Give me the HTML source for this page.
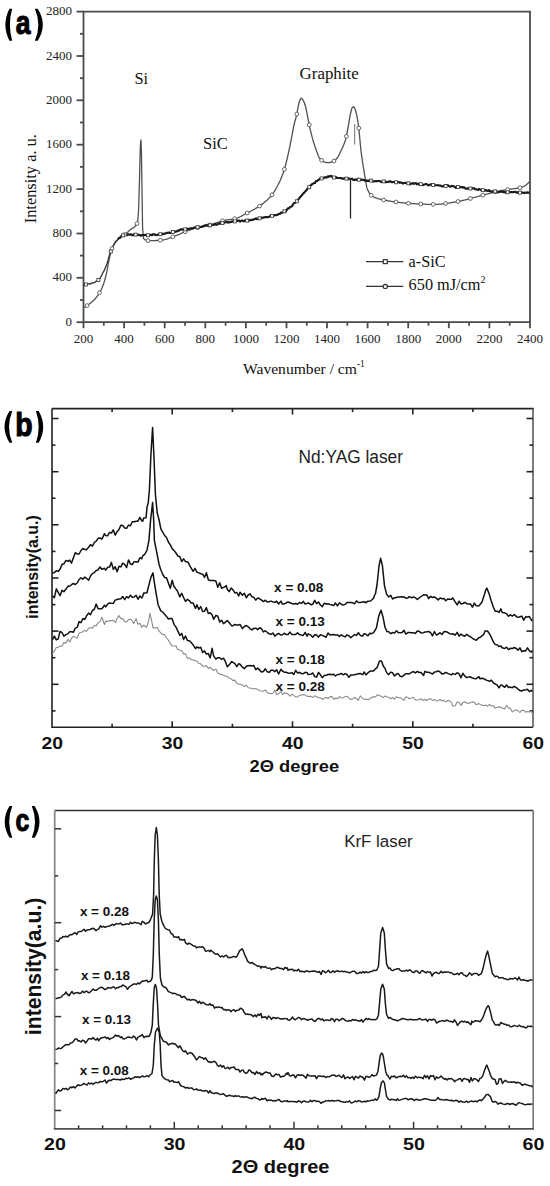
<!DOCTYPE html>
<html><head><meta charset="utf-8"><title>Figure</title>
<style>
html,body{margin:0;padding:0;background:#fff;}
body{width:550px;height:1186px;overflow:hidden;font-family:"Liberation Sans",sans-serif;}
svg{display:block;}
</style></head><body>
<svg width="550" height="1186" viewBox="0 0 550 1186">
<rect width="550" height="1186" fill="#fff"/>
<g stroke="#4a4a4a" stroke-width="1.8" fill="none">
<path d="M83.5 11.6H530V322.2H83.5Z"/>
<path d="M76.5 322.2H83.5"/>
<path d="M80 300H83.5"/>
<path d="M76.5 277.8H83.5"/>
<path d="M80 255.6H83.5"/>
<path d="M76.5 233.5H83.5"/>
<path d="M80 211.3H83.5"/>
<path d="M76.5 189.1H83.5"/>
<path d="M80 166.9H83.5"/>
<path d="M76.5 144.7H83.5"/>
<path d="M80 122.5H83.5"/>
<path d="M76.5 100.3H83.5"/>
<path d="M80 78.2H83.5"/>
<path d="M76.5 56H83.5"/>
<path d="M80 33.8H83.5"/>
<path d="M76.5 11.6H83.5"/>
<path d="M83.5 322.2V328.2"/>
<path d="M103.8 322.2V325.7"/>
<path d="M124.1 322.2V328.2"/>
<path d="M144.4 322.2V325.7"/>
<path d="M164.7 322.2V328.2"/>
<path d="M185 322.2V325.7"/>
<path d="M205.3 322.2V328.2"/>
<path d="M225.6 322.2V325.7"/>
<path d="M245.9 322.2V328.2"/>
<path d="M266.2 322.2V325.7"/>
<path d="M286.5 322.2V328.2"/>
<path d="M306.8 322.2V325.7"/>
<path d="M327 322.2V328.2"/>
<path d="M347.3 322.2V325.7"/>
<path d="M367.6 322.2V328.2"/>
<path d="M387.9 322.2V325.7"/>
<path d="M408.2 322.2V328.2"/>
<path d="M428.5 322.2V325.7"/>
<path d="M448.8 322.2V328.2"/>
<path d="M469.1 322.2V325.7"/>
<path d="M489.4 322.2V328.2"/>
<path d="M509.7 322.2V325.7"/>
<path d="M530 322.2V328.2"/>
</g>
<g font-family='"Liberation Serif", serif' font-size="13" fill="#222">
<text x="72" y="325.7" text-anchor="end">0</text>
<text x="72" y="281.3" text-anchor="end">400</text>
<text x="72" y="237" text-anchor="end">800</text>
<text x="72" y="192.6" text-anchor="end">1200</text>
<text x="72" y="148.2" text-anchor="end">1600</text>
<text x="72" y="103.8" text-anchor="end">2000</text>
<text x="72" y="59.5" text-anchor="end">2400</text>
<text x="72" y="15.1" text-anchor="end">2800</text>
<text x="83.5" y="342.8" text-anchor="middle">200</text>
<text x="124.1" y="342.8" text-anchor="middle">400</text>
<text x="164.7" y="342.8" text-anchor="middle">600</text>
<text x="205.3" y="342.8" text-anchor="middle">800</text>
<text x="245.9" y="342.8" text-anchor="middle">1000</text>
<text x="286.5" y="342.8" text-anchor="middle">1200</text>
<text x="327" y="342.8" text-anchor="middle">1400</text>
<text x="367.6" y="342.8" text-anchor="middle">1600</text>
<text x="408.2" y="342.8" text-anchor="middle">1800</text>
<text x="448.8" y="342.8" text-anchor="middle">2000</text>
<text x="489.4" y="342.8" text-anchor="middle">2200</text>
<text x="530" y="342.8" text-anchor="middle">2400</text>
</g>
<g font-family='"Liberation Serif", serif' fill="#111">
<text x="243" y="374" font-size="15.6">Wavenumber / cm<tspan font-size="9.5" dy="-7">-1</tspan></text>
<text transform="translate(35.5 178.7) rotate(-90)" text-anchor="middle" font-size="16.4">Intensity a. u.</text>
<text x="134.4" y="84.4" font-size="16.5">Si</text>
<text x="203" y="149" font-size="16.5">SiC</text>
<text x="299.6" y="78.6" font-size="16.9">Graphite</text>
<text x="408.6" y="266.8" font-size="16.3">a-SiC</text>
<text x="408.6" y="290.4" font-size="16.3">650 mJ/cm<tspan font-size="10" dy="-7">2</tspan></text>
</g>
<g stroke="#333" stroke-width="1.2" fill="#fff">
<path d="M366 261.6H403.3M366 286.4H403.3" fill="none"/>
<rect x="383.3" y="259.6" width="4" height="4"/>
<circle cx="385.3" cy="286.4" r="2.1"/>
</g>
<path d="M84 307.5L84.7 307.1L85.4 306.7L86.1 306.2L86.8 305.8L87.2 305.5L88.2 304.8L88.9 304.3L89.6 303.8L90.3 303.3L91 302.7L91.7 302.1L92.4 301.5L93.1 300.9L94 300L94.5 299.5L95.2 298.7L95.9 297.9L96.6 297.1L97.3 296.1L98 295.2L98.7 294.1L99.4 293L100 292L100.8 290.5L101.5 289L102.2 287.4L102.9 285.6L103.5 284L104.3 281.6L105 279.2L105.7 276.6L106.2 274.6L107.1 270.2L107.8 266.3L108.5 262.5L109 260L109.9 255.9L110.6 252.8L111.6 249.5L112 248.5L112.7 247L113.4 245.6L114.1 244.4L114.8 243.3L115.5 242.3L116.2 241.4L117 240.5L117.6 239.9L118.3 239.2L119 238.6L119.7 238.1L120.4 237.6L121.1 237.1L121.8 236.6L122.5 236.1L123.2 235.6L123.6 235.3L124.6 234.5L125.3 233.9L126 233.4L126.7 232.8L127.4 232.2L128.1 231.7L128.8 231.1L129.5 230.4L130 230L130.9 229.3L131.6 228.8L132.3 228.4L133 228L133.7 227.6L134.4 227L135.1 226.3L135.8 225.5L136.5 224.4L137.4 222.6L137.9 219.5L138.6 210L138.6 210L139.5 180L140 158.1L140.4 145L140.9 139.5L141.4 150L141.4 150L142 190L142.6 228L143.5 238.5L143.5 238.5L144.2 239.1L144.9 239.7L145.6 240L146.3 240.3L147 240.5L147.7 240.6L148.4 240.7L148.8 240.7L149.8 240.7L150.5 240.7L151.2 240.7L151.9 240.7L152.6 240.7L153.3 240.6L154 240.6L154.7 240.6L155.4 240.6L156.1 240.5L156.8 240.5L157.5 240.5L158.2 240.4L158.9 240.4L159.6 240.4L160.3 240.3L160.7 240.3L161.7 240.2L162.4 240.1L163.1 240L163.8 239.8L164.5 239.7L165.2 239.5L165.9 239.3L166.6 239.1L167.3 238.8L168 238.6L168.7 238.3L169.4 238.1L170.1 237.8L170.8 237.5L171.5 237.3L172.2 237L172.9 236.8L173.9 236.4L174.3 236.3L175 236L175.7 235.7L176.4 235.5L177.1 235.2L177.8 234.9L178.5 234.6L179.2 234.3L179.9 234L180.6 233.6L181.3 233.3L182 233L182.7 232.7L183.4 232.4L184.1 232.1L184.8 231.8L185.5 231.6L186.2 231.3L187 231L187.6 230.8L188.3 230.5L189 230.3L189.7 230.1L190.4 229.8L191.1 229.6L191.8 229.4L192.5 229.2L193.2 228.9L193.9 228.7L194.6 228.5L195.3 228.3L196 228.1L196.7 227.9L197.4 227.7L197.9 227.6L198.8 227.4L199.5 227.2L200.2 227.1L200.9 226.9L201.6 226.8L202.3 226.6L203 226.5L203.7 226.3L204.4 226.2L205.1 226.1L205.8 225.9L206.5 225.8L207.2 225.7L207.9 225.5L208.6 225.3L209.3 225.2L210 225L210.4 224.9L211.4 224.6L212.1 224.4L212.8 224.2L213.5 223.9L214.2 223.7L214.9 223.4L215.6 223.1L216.3 222.9L217 222.6L217.7 222.3L218.4 222.1L219.1 221.8L219.8 221.6L220.5 221.3L221.2 221.1L221.9 220.9L222.6 220.7L223.1 220.6L224 220.4L224.7 220.3L225.4 220.2L226.1 220L226.8 219.9L227.5 219.8L228.2 219.8L228.9 219.7L229.6 219.6L230.3 219.5L231 219.4L231.7 219.3L232.4 219.2L233.1 219.1L233.8 218.9L234.5 218.8L235.2 218.6L235.8 218.5L236.6 218.3L237.3 218L238 217.8L238.7 217.5L239.4 217.2L240.1 216.8L240.8 216.5L241.5 216.1L242.2 215.7L242.9 215.3L243.6 214.9L244.3 214.5L245 214.2L245.7 213.8L246.4 213.4L247.3 212.9L247.8 212.6L248.5 212.3L249.2 211.9L249.9 211.6L250.6 211.2L251.3 210.8L252 210.5L252.7 210.1L253.4 209.7L254.1 209.3L254.8 209L255.5 208.6L256.2 208.1L256.9 207.7L257.6 207.3L258.3 206.9L258.7 206.6L259.7 205.9L260.4 205.4L261.1 204.9L261.8 204.4L262.5 203.9L263.2 203.3L263.9 202.8L264.6 202.2L265.3 201.6L266 201L266 201L266.7 200.4L267.4 199.8L268.1 199.1L268.8 198.4L269.5 197.7L270.2 197L270.9 196.2L271.4 195.6L272.3 194.4L273 193.5L273.7 192.5L274.4 191.4L275.1 190.2L275.8 189L276.5 187.8L277.2 186.5L278 185L278.6 183.8L279.3 182.4L280 180.9L280.7 179.3L281.4 177.6L282.1 175.8L282.8 174L283.5 172L284.1 170.2L284.9 167.6L285.6 165L286.3 162.2L287 159.3L288 155L288.4 153.2L289.1 150L289.8 146.6L290.5 143.1L291.3 139.1L291.9 136L292.6 132.1L293.3 128.4L294 125L294 125L294.7 122.2L295.4 119.7L296.1 117.1L296.5 115.5L297.5 110.3L298.2 106.4L299 103L299.6 101.2L300.3 99.3L301.2 98.2L301.7 98.4L302.4 99.2L303 100L303.8 101.5L304.5 103.3L305.5 106.5L305.9 108L306.6 111.4L307.5 116L308 118.6L308.7 122.3L309.7 127.3L310.1 129L310.8 131.9L311.5 134.7L312.2 137.4L312.9 139.9L313.6 142.2L314.3 144.4L314.9 146.2L315.7 148.5L316.4 150.6L317.1 152.6L317.8 154.4L318.5 156.2L319.2 157.6L319.9 158.8L320.8 159.8L321.3 160.1L322 160.6L322.7 161L323.4 161.4L324.1 161.8L324.8 162.1L325.5 162.3L326.2 162.5L326.9 162.6L327.9 162.7L328.3 162.7L329 162.6L329.7 162.5L330.4 162.4L331.1 162.2L331.8 161.9L332.5 161.6L333.2 161.4L333.8 161.1L334.6 160.6L335.3 160L336 159.3L336.7 158.5L337.5 157.5L338.1 156.6L338.8 155.4L339.5 153.9L340.2 152.4L340.9 150.9L340.9 150.9L341.6 149.4L342.3 147.9L343 146.4L343.7 144.8L344.4 143L345.1 141L345.7 139.1L346.5 135.8L347.2 132.2L347.9 128.3L348.5 125L349.3 120.1L350 115.9L350.4 114L351.4 109.9L352.1 107.9L352.5 107.3L353.8 106.8L354.2 107.1L354.9 108.6L355.6 110.7L355.6 110.7L356.3 113.2L357.3 118L357.7 120.3L358.7 127.3L359.1 130.9L359.8 138.5L360.5 146.2L361 150.9L361.9 157.7L362.6 162.5L363.3 166.9L364 171.1L364.6 174.6L365.4 179.6L366.1 183.9L366.8 187.4L367.3 189L368.2 190.9L368.9 192.2L369.6 193.3L370.3 194.3L371 195.1L371.7 195.7L372.7 196.4L373.1 196.6L373.8 197L374.5 197.3L375.2 197.6L375.9 197.9L376.6 198.2L377.3 198.4L378 198.7L378.7 198.9L379.4 199.1L380.1 199.2L380.8 199.4L381.5 199.6L382.2 199.7L382.9 199.9L383.6 200L383.6 200L384.3 200.1L385 200.3L385.7 200.4L386.4 200.5L387.1 200.6L387.8 200.8L388.5 200.9L389.2 201L389.9 201.1L390.6 201.2L391.3 201.3L392 201.5L392.7 201.6L393.4 201.7L394.1 201.8L394.8 201.9L395.5 202L396.2 202.1L396.9 202.1L397.6 202.2L398.3 202.3L399 202.4L399.7 202.5L400.4 202.6L401.1 202.6L401.8 202.7L402.5 202.8L403.2 202.9L403.9 202.9L404.6 203L405.3 203.1L406 203.1L406.7 203.2L407.4 203.2L408.1 203.3L408.8 203.3L409.5 203.4L410.2 203.4L410.9 203.5L411.6 203.5L412.3 203.6L412.7 203.6L413.7 203.7L414.4 203.7L415.1 203.7L415.8 203.8L416.5 203.8L417.2 203.8L417.9 203.9L418.6 203.9L419.3 204L420 204L420.7 204L421.4 204.1L422.1 204.1L422.8 204.1L423.5 204.1L424.2 204.2L424.9 204.2L425.6 204.2L426.3 204.3L427 204.3L427.7 204.3L428.4 204.3L429.1 204.3L429.8 204.3L430.5 204.4L431.2 204.4L431.9 204.4L432.6 204.4L433.3 204.4L434 204.4L434.5 204.4L435.4 204.4L436.1 204.4L436.8 204.4L437.5 204.3L438.2 204.3L438.9 204.2L439.6 204.2L440.3 204.1L441 204.1L441.7 204L442.4 203.9L443.1 203.8L443.8 203.8L444.5 203.7L445.2 203.6L445.9 203.5L446.6 203.4L447.3 203.3L448 203.2L448.7 203.1L449.4 202.9L450.1 202.8L450.8 202.7L451.5 202.6L452.2 202.5L452.9 202.4L453.6 202.3L454.3 202.1L455 202L455.7 201.9L456.4 201.8L456.4 201.8L457.1 201.7L457.8 201.6L458.5 201.4L459.2 201.3L459.9 201.1L460.6 201L461.3 200.8L462 200.7L462.7 200.5L463.4 200.4L464.1 200.2L464.8 200L465.5 199.8L466.2 199.6L466.9 199.5L467.6 199.3L468.3 199.1L469 198.9L469.7 198.7L470.4 198.5L471.1 198.3L471.8 198.1L472.5 197.9L473.2 197.7L473.9 197.5L474.6 197.3L475.3 197.2L476 197L476.7 196.8L477.4 196.6L478.2 196.4L478.8 196.2L479.5 196.1L480.2 195.9L480.9 195.7L481.6 195.5L482.3 195.3L483 195.1L483.7 195L484.4 194.8L485.1 194.6L485.8 194.4L486.5 194.2L487.2 194L487.9 193.8L488.6 193.6L489.3 193.4L490 193.3L490.7 193.1L491.4 192.9L492.1 192.7L492.8 192.5L493.5 192.4L494.2 192.2L494.9 192L495.6 191.8L496.3 191.7L497 191.5L497.7 191.4L498.4 191.2L499.1 191.1L500 190.9L500.5 190.8L501.2 190.7L501.9 190.5L502.6 190.4L503.3 190.3L504 190.2L504.7 190.1L505.4 190L506.1 189.9L506.8 189.8L507.5 189.7L508.2 189.6L508.9 189.4L509.6 189.3L510.3 189.2L511 189.1L511.7 189L512.4 188.9L513.1 188.8L513.8 188.7L514.5 188.6L515 188.5L515.9 188.4L516.6 188.3L517.3 188.2L518 188.1L518.7 187.9L519.4 187.8L520.1 187.7L520.8 187.6L521.8 187.3L522.2 187.2L522.9 186.9L523.6 186.5L524.3 186.1L525 185.7L526 185L526.4 184.7L527.1 184.1L527.8 183.4L528.5 182.7L529.5 181.5" fill="none" stroke="#505050" stroke-width="1.3"/>
<path d="M84 284.8L85 284.8L86 284.4L86.5 284L87 284L88 283.6L89 283.8L90 284.2L91 283.4L92 282.9L93 283L94 282.7L95 282.1L96 281.2L97 280.8L98 280.5L99.2 278.8L100 278.2L101 276.4L102 274.6L102.8 273L104 270.9L105 268.5L106.2 265.8L107 263.6L108 260.4L109 256.8L110 253.7L111 250.9L111.6 249.5L113 246.2L114 244.3L115 242.6L116 241.2L117 240.5L118 239.1L119 238.1L120 237.7L121 236.4L122 235.8L123 235.5L123.6 235.3L125 234.5L126 234.7L127 235.2L128 234.1L129 234.7L130 234.6L131 234.3L132 235.3L133 235.1L134 234.2L135 234.5L136.3 234.8L137 234.6L138 235L139 234.8L140 235.2L141 235.7L142 235L143 235.2L144 235.1L145 235.3L145.5 234.8L146 234.9L147 235.1L148 235.6L149 235.8L150 234.8L151 234.7L152 235.2L153 234.2L154 234.4L155 234.6L156 235.2L157 235L158 234.5L159 234.2L160 234.1L160.7 234.8L162 234L163 233.8L164 233.9L165 233.6L166 233.3L167 232.7L168 232.8L169 232.5L170 233L171 232.7L172 232.2L173 232.2L174 231.7L175 231.9L176 231.4L177 231.4L178 230.4L179 230.7L180 229.8L181 229.2L182 229.6L183 229.4L184 229.6L185 230.4L186 229.2L187 228.8L188 228.9L189 228.9L190 228.5L191 228.2L192 228.4L193 228.3L194 227.5L195 227.5L196 227.5L197 226.9L198 227.2L199 226.7L200 227.2L201 226.9L202 226.7L203 226.2L204 226.1L205 225.2L206 225.2L207 225.7L208 224.7L209 225.5L210 224.6L211 225.2L212 224.6L213 225L214 224.7L215 223.8L216 224.6L217 224.7L218 224L219 223.6L220 223.4L221 222.9L222 223.5L223 222.9L224 222.8L225 222.3L226 222.2L227 221.8L228 222.6L229 222.1L230 222.4L231 222L232 221.5L233 221.4L234 221.2L235 221.3L235.8 221.1L237 221L238 220.5L239 220.6L240 221.6L241 220.9L242 220.5L243 220.9L244 221.4L245 220.3L246 220.5L247 220.3L248 219.7L248.5 220.6L249 220.5L250 220.3L251 219.8L252 220.1L253 219.6L254 219.4L255 218.8L256 218.4L257 219.2L258 218.5L258.7 218.6L260 218.3L261 217.9L262 217.6L263 217.8L264 217.4L265 217.2L266.3 217L267 217.3L268 217.1L269 216.7L270 216.1L271 215.4L272 216L273 216L274 215.4L275 215.2L276 215.1L277 214.9L278 214.6L279 213.7L280 213.9L281 212.6L282 212.7L283 212.3L284.1 211.9L285 211.9L286 211.3L287 209.5L288 208.3L289 208.4L290 207.1L291 206.6L292 206.2L293 204.4L294 203L295 202.9L295.6 202.5L297 201L298 199.9L299 198.6L300 197.2L301 196.3L302 195.1L303 193.7L304 192.9L305 191.7L306 190.7L307 189.3L308 188.2L309 187.1L310 185.8L311 185.3L312 184.2L313 183.7L314 183L315 183L316 181L317.2 180.9L318 180.2L319 179.6L320 178.5L321 178.3L322 178.5L323 178L324 177.7L325 177.3L326 177.7L326.7 177.3L328 176.3L329 176.7L330 176.3L331 175.7L332 176.6L333 177.7L334 177.6L335 177.1L336 177.1L337 178L338 178L339 178L340 178L340.9 178.1L342 178.5L343 178.6L344 178.6L345 178.1L346 178.7L347 178.4L348 179.1L349 178.4L350 178.8L351 179L352 178.6L353 179.8L354 180.1L355 179.4L356 179.8L357 179.8L358 178.7L359 179.6L360 179.8L361 179.9L362 179.6L363 179.8L364 180L364.6 180.6L366 180.6L367 180.5L368 181.1L369 180.5L370 180.4L371 179.8L372 181.1L373 181.3L374 181.4L375 181.3L376 181.1L377 181.1L378 181L379 181L380 181.2L381 181.9L382 181.7L383 181.5L384 181.2L385 181.2L386 182.1L387 182L388.2 181.8L389 181.7L390 181.3L391 181.7L392 182.3L393 182L394 182L395 182.1L396 182.3L397 181.7L398 182.1L399 182.1L400 182.8L401 182.4L402 182.9L403 183.5L404 183L405 182.8L406 183.1L407 183.2L408 182.8L409 183.4L410 184.3L411 183.6L412 183.5L412.7 183.2L414 183.7L415 183.3L416 183.2L417 184.3L418 183.7L419 184.4L420 184.9L421 184.5L422 184.6L423 185.2L424 184.6L425 184.3L426 183.9L427 184.4L428 185.2L429 185.3L430 184.6L431 184.4L432 184.6L433 185L434 185L435 185.2L436 185.3L437 185.2L438 185.3L439 185.5L440 185.5L441 185.7L442 186.5L443 186.2L444 185.9L445 185.2L446 185.9L447 185.2L448 185.3L449.1 186.3L450 186.6L451 186.4L452 185.8L453 186.2L454 186.3L455 186.9L456 187.9L457 187.4L458 186.9L459 186.7L460 187.1L461 187.3L462 187L463 187.6L464 187.3L465 188.2L466 188.6L467 188.8L468 188.2L469 188.6L470 188.5L471 188.5L472 188.6L473 188.3L474 188.2L475 189.3L476 189.2L477 189.5L478 190L479 189.1L480 189.4L481 189.9L482 190.2L483 190.1L484 190.7L485 190.7L485.5 190.1L486 190L487 190.8L488 191L489 190.1L490 191.3L491 191.4L492 191.8L493 191.3L494 191.2L495 190.9L496 192.4L497 191.8L498 192.4L499 191.7L500 191.9L501 191.2L502 191.6L503 192.3L504 191.7L505 192.5L506 192.4L507 191.9L508 192L509 192.1L510 192.3L510.9 192.1L512 192L513 192.2L514 192L515 191.8L516 192.3L517 192.8L518 192L519 192.4L520 192.3L521 192.1L522 192.8L523 192.5L524 193.2L525 192.5L526 192.8L527 192.6L528 192.4L529 192.8L529.5 192.7" fill="none" stroke="#333" stroke-width="1.3"/>
<path d="M118 239.1L119 238.1L120 237.7L121 236.4L122 235.8L123 235.5L123.6 235.3L125 234.5L126 234.7L127 235.2L128 234.1L129 234.7L130 234.6L131 234.3L132 235.3L133 235.1L134 234.2L135 234.5L136.3 234.8L137 234.6L138 235L139 234.8L140 235.2L141 235.7L142 235L143 235.2L144 235.1L145 235.3L145.5 234.8L146 234.9L147 235.1L148 235.6L149 235.8L150 234.8L151 234.7L152 235.2L153 234.2L154 234.4L155 234.6L156 235.2L157 235L158 234.5L159 234.2L160 234.1L160.7 234.8L162 234L163 233.8L164 233.9L165 233.6L166 233.3L167 232.7L168 232.8L169 232.5L170 233L171 232.7L172 232.2L173 232.2L174 231.7L175 231.9L176 231.4L177 231.4L178 230.4L179 230.7L180 229.8L181 229.2L182 229.6L183 229.4L184 229.6L185 230.4L186 229.2L187 228.8L188 228.9L189 228.9L190 228.5L191 228.2L192 228.4L193 228.3L194 227.5L195 227.5L196 227.5L197 226.9L198 227.2L199 226.7L200 227.2L201 226.9L202 226.7L203 226.2L204 226.1L205 225.2L206 225.2L207 225.7L208 224.7L209 225.5L210 224.6L211 225.2L212 224.6L213 225L214 224.7L215 223.8L216 224.6L217 224.7L218 224L219 223.6L220 223.4L221 222.9L222 223.5L223 222.9L224 222.8L225 222.3L226 222.2L227 221.8L228 222.6L229 222.1L230 222.4L231 222L232 221.5L233 221.4L234 221.2L235 221.3L235.8 221.1L237 221L238 220.5L239 220.6L240 221.6L241 220.9L242 220.5L243 220.9L244 221.4L245 220.3L246 220.5L247 220.3L248 219.7L248.5 220.6L249 220.5L250 220.3L251 219.8L252 220.1L253 219.6L254 219.4L255 218.8L256 218.4L257 219.2L258 218.5L258.7 218.6L260 218.3L261 217.9L262 217.6L263 217.8L264 217.4L265 217.2L266.3 217L267 217.3L268 217.1L269 216.7L270 216.1L271 215.4L272 216L273 216L274 215.4L275 215.2L276 215.1L277 214.9L278 214.6L279 213.7L280 213.9L281 212.6L282 212.7L283 212.3L284.1 211.9L285 211.9L286 211.3L287 209.5L288 208.3L289 208.4L290 207.1L291 206.6L292 206.2L293 204.4L294 203L295 202.9L295.6 202.5L297 201L298 199.9L299 198.6L300 197.2L301 196.3L302 195.1L303 193.7L304 192.9L305 191.7L306 190.7L307 189.3L308 188.2L309 187.1L310 185.8L311 185.3L312 184.2L313 183.7L314 183L315 183L316 181L317.2 180.9L318 180.2L319 179.6L320 178.5L321 178.3L322 178.5L323 178L324 177.7L325 177.3L326 177.7L326.7 177.3L328 176.3L329 176.7L330 176.3L331 175.7L332 176.6L333 177.7L334 177.6L335 177.1L336 177.1L337 178L338 178L339 178L340 178L340.9 178.1L342 178.5L343 178.6L344 178.6L345 178.1L346 178.7L347 178.4L348 179.1L349 178.4L350 178.8L351 179L352 178.6L353 179.8L354 180.1L355 179.4L356 179.8L357 179.8L358 178.7L359 179.6L360 179.8L361 179.9L362 179.6L363 179.8L364 180L364.6 180.6L366 180.6L367 180.5L368 181.1L369 180.5L370 180.4L371 179.8L372 181.1L373 181.3L374 181.4L375 181.3L376 181.1L377 181.1L378 181L379 181L380 181.2L381 181.9L382 181.7L383 181.5L384 181.2L385 181.2L386 182.1L387 182L388.2 181.8L389 181.7L390 181.3L391 181.7L392 182.3L393 182L394 182L395 182.1L396 182.3L397 181.7L398 182.1L399 182.1L400 182.8L401 182.4L402 182.9L403 183.5L404 183L405 182.8L406 183.1L407 183.2L408 182.8L409 183.4L410 184.3L411 183.6L412 183.5L412.7 183.2L414 183.7L415 183.3L416 183.2L417 184.3L418 183.7L419 184.4L420 184.9L421 184.5L422 184.6L423 185.2L424 184.6L425 184.3L426 183.9L427 184.4L428 185.2L429 185.3L430 184.6L431 184.4L432 184.6L433 185L434 185L435 185.2L436 185.3L437 185.2L438 185.3L439 185.5L440 185.5L441 185.7L442 186.5L443 186.2L444 185.9L445 185.2L446 185.9L447 185.2L448 185.3L449.1 186.3L450 186.6L451 186.4L452 185.8L453 186.2L454 186.3L455 186.9L456 187.9L457 187.4L458 186.9L459 186.7L460 187.1L461 187.3L462 187L463 187.6L464 187.3L465 188.2L466 188.6L467 188.8L468 188.2L469 188.6L470 188.5L471 188.5L472 188.6L473 188.3L474 188.2L475 189.3L476 189.2L477 189.5L478 190L479 189.1L480 189.4L481 189.9L482 190.2L483 190.1L484 190.7L485 190.7L485.5 190.1L486 190L487 190.8L488 191L489 190.1L490 191.3L491 191.4L492 191.8L493 191.3L494 191.2L495 190.9L496 192.4L497 191.8L498 192.4L499 191.7L500 191.9L501 191.2L502 191.6L503 192.3L504 191.7L505 192.5L506 192.4L507 191.9L508 192L509 192.1L510 192.3L510.9 192.1L512 192L513 192.2L514 192L515 191.8L516 192.3L517 192.8L518 192L519 192.4L520 192.3L521 192.1L522 192.8L523 192.5L524 193.2L525 192.5L526 192.8L527 192.6L528 192.4L529 192.8L529.5 192.7" fill="none" stroke="#1a1a1a" stroke-width="2.1" stroke-linejoin="round"/>
<g fill="#fff" stroke="#555" stroke-width="0.9">
<circle cx="87" cy="305.6" r="1.9"/>
<circle cx="99.5" cy="292.8" r="1.9"/>
<circle cx="112" cy="248.5" r="1.9"/>
<circle cx="124.5" cy="234.6" r="1.9"/>
<circle cx="137" cy="223.5" r="1.9"/>
<circle cx="148" cy="240.7" r="1.9"/>
<circle cx="160.4" cy="240.3" r="1.9"/>
<circle cx="172.8" cy="236.8" r="1.9"/>
<circle cx="185.2" cy="231.7" r="1.9"/>
<circle cx="197.6" cy="227.7" r="1.9"/>
<circle cx="210" cy="225" r="1.9"/>
<circle cx="222.4" cy="220.8" r="1.9"/>
<circle cx="234.8" cy="218.7" r="1.9"/>
<circle cx="247.2" cy="213" r="1.9"/>
<circle cx="259.6" cy="206" r="1.9"/>
<circle cx="272" cy="194.8" r="1.9"/>
<circle cx="284.4" cy="169.3" r="1.9"/>
<circle cx="296.8" cy="114.1" r="1.9"/>
<circle cx="309.2" cy="124.9" r="1.9"/>
<circle cx="321.6" cy="160.3" r="1.9"/>
<circle cx="334" cy="161" r="1.9"/>
<circle cx="346.4" cy="136.3" r="1.9"/>
<circle cx="358.8" cy="128.1" r="1.9"/>
<circle cx="371.2" cy="195.3" r="1.9"/>
<circle cx="383.6" cy="200" r="1.9"/>
<circle cx="396" cy="202" r="1.9"/>
<circle cx="408.4" cy="203.3" r="1.9"/>
<circle cx="420.8" cy="204" r="1.9"/>
<circle cx="433.2" cy="204.4" r="1.9"/>
<circle cx="445.6" cy="203.5" r="1.9"/>
<circle cx="458" cy="201.5" r="1.9"/>
<circle cx="470.4" cy="198.5" r="1.9"/>
<circle cx="482.8" cy="195.2" r="1.9"/>
<circle cx="495.2" cy="191.9" r="1.9"/>
<circle cx="507.6" cy="189.6" r="1.9"/>
<circle cx="520" cy="187.7" r="1.9"/>
</g>
<g fill="#fff" stroke="#333" stroke-width="0.8">
<rect x="84.5" y="283" width="3" height="3"/>
<rect x="96.9" y="278.5" width="3" height="3"/>
<rect x="109.3" y="250" width="3" height="3"/>
<rect x="121.7" y="233.9" width="3" height="3"/>
<rect x="134.1" y="233.1" width="3" height="3"/>
<rect x="146.5" y="233.8" width="3" height="3"/>
<rect x="158.9" y="232.7" width="3" height="3"/>
<rect x="171.3" y="230.4" width="3" height="3"/>
<rect x="183.7" y="227.9" width="3" height="3"/>
<rect x="196.1" y="225.7" width="3" height="3"/>
<rect x="208.5" y="223.8" width="3" height="3"/>
<rect x="220.9" y="221.6" width="3" height="3"/>
<rect x="233.3" y="219.9" width="3" height="3"/>
<rect x="245.7" y="219.1" width="3" height="3"/>
<rect x="258.1" y="216.8" width="3" height="3"/>
<rect x="270.5" y="214.3" width="3" height="3"/>
<rect x="282.9" y="209.8" width="3" height="3"/>
<rect x="295.3" y="199.8" width="3" height="3"/>
<rect x="307.7" y="185.7" width="3" height="3"/>
<rect x="320.1" y="176.9" width="3" height="3"/>
<rect x="332.5" y="176" width="3" height="3"/>
<rect x="344.9" y="177.1" width="3" height="3"/>
<rect x="357.3" y="178.2" width="3" height="3"/>
<rect x="369.7" y="179.1" width="3" height="3"/>
<rect x="382.1" y="179.9" width="3" height="3"/>
<rect x="394.5" y="180.8" width="3" height="3"/>
<rect x="406.9" y="181.8" width="3" height="3"/>
<rect x="419.3" y="182.7" width="3" height="3"/>
<rect x="431.7" y="183.5" width="3" height="3"/>
<rect x="444.1" y="184.4" width="3" height="3"/>
<rect x="456.5" y="185.6" width="3" height="3"/>
<rect x="468.9" y="187" width="3" height="3"/>
<rect x="481.3" y="188.7" width="3" height="3"/>
<rect x="493.7" y="189.9" width="3" height="3"/>
<rect x="506.1" y="190.8" width="3" height="3"/>
<rect x="518.5" y="191.1" width="3" height="3"/>
</g>
<path d="M350.5 178V218.5" stroke="#222" stroke-width="1.3"/>
<path d="M354.6 124V144.5" stroke="#888" stroke-width="1.2"/>
<path d="M9.4 8.8Q1.4 24.8 9.4 40.7L12.2 40.7Q7.6 24.8 12.2 8.8Z" fill="#000"/>
<path d="M37.7 8.8Q47.9 24.8 37.7 40.7L34.9 40.7Q41.7 24.8 34.9 8.8Z" fill="#000"/>
<text transform="translate(15.7 33.7) scale(0.82 1)" font-family='"Liberation Sans", sans-serif' font-weight="bold" font-size="32.3" fill="#000" stroke="#000" stroke-width="1.1" stroke-linejoin="round">a</text>
<g stroke="#222" stroke-width="1.6" fill="none">
<path d="M52 408.6V727.3H533M52 408.6H533.8"/>
<path d="M533 408.6V727.3" stroke="#5a5a5a"/>
<path d="M52 418.5h6.5"/>
<path d="M533 418.5h-6.5"/>
<path d="M52 445.1h3.5"/>
<path d="M533 445.1h-3.5"/>
<path d="M52 471.7h6.5"/>
<path d="M533 471.7h-6.5"/>
<path d="M52 498.2h3.5"/>
<path d="M533 498.2h-3.5"/>
<path d="M52 524.8h6.5"/>
<path d="M533 524.8h-6.5"/>
<path d="M52 551.4h3.5"/>
<path d="M533 551.4h-3.5"/>
<path d="M52 578h6.5"/>
<path d="M533 578h-6.5"/>
<path d="M52 604.6h3.5"/>
<path d="M533 604.6h-3.5"/>
<path d="M52 631.1h6.5"/>
<path d="M533 631.1h-6.5"/>
<path d="M52 657.7h3.5"/>
<path d="M533 657.7h-3.5"/>
<path d="M52 684.3h6.5"/>
<path d="M533 684.3h-6.5"/>
<path d="M52 710.9h3.5"/>
<path d="M533 710.9h-3.5"/>
<path d="M112.1 408.6v3.5"/>
<path d="M112.1 727.3v-3.5"/>
<path d="M172.2 408.6v6"/>
<path d="M172.2 727.3v-6"/>
<path d="M232.4 408.6v3.5"/>
<path d="M232.4 727.3v-3.5"/>
<path d="M292.5 408.6v6"/>
<path d="M292.5 727.3v-6"/>
<path d="M352.6 408.6v3.5"/>
<path d="M352.6 727.3v-3.5"/>
<path d="M412.8 408.6v6"/>
<path d="M412.8 727.3v-6"/>
<path d="M472.9 408.6v3.5"/>
<path d="M472.9 727.3v-3.5"/>
</g>
<g font-family='"Liberation Sans", sans-serif' font-weight="bold" fill="#111">
<text x="52.3" y="748.6" text-anchor="middle" font-size="17" textLength="21.5" lengthAdjust="spacingAndGlyphs">20</text>
<text x="172.6" y="748.6" text-anchor="middle" font-size="17" textLength="21.5" lengthAdjust="spacingAndGlyphs">30</text>
<text x="292.8" y="748.6" text-anchor="middle" font-size="17" textLength="21.5" lengthAdjust="spacingAndGlyphs">40</text>
<text x="413.1" y="748.6" text-anchor="middle" font-size="17" textLength="21.5" lengthAdjust="spacingAndGlyphs">50</text>
<text x="533.3" y="748.6" text-anchor="middle" font-size="17" textLength="21.5" lengthAdjust="spacingAndGlyphs">60</text>
<text x="249.6" y="772" font-size="17" textLength="89.5" lengthAdjust="spacingAndGlyphs">2&#920; degree</text>
<text transform="translate(37.6 567) rotate(-90)" text-anchor="middle" font-size="16.6" textLength="103.5" lengthAdjust="spacingAndGlyphs">intensity(a.u.)</text>
<text x="274.1" y="591.8" font-size="13.5" textLength="49.3" lengthAdjust="spacingAndGlyphs">x = 0.08</text>
<text x="275.5" y="625.9" font-size="13.5" textLength="49.3" lengthAdjust="spacingAndGlyphs">x = 0.13</text>
<text x="275.5" y="664.1" font-size="13.5" textLength="49.3" lengthAdjust="spacingAndGlyphs">x = 0.18</text>
<text x="275.5" y="691.4" font-size="13.5" textLength="49.3" lengthAdjust="spacingAndGlyphs">x = 0.28</text>
</g>
<text x="298.5" y="462.6" font-family='"Liberation Sans", sans-serif' font-size="17.6" fill="#222" textLength="104.4" lengthAdjust="spacingAndGlyphs">Nd:YAG laser</text>
<path d="M52.5 653.5L54.4 650.9L56.3 647.5L58.2 647.2L60 646.1L62 646.2L63.9 642.6L65.8 642.9L68.2 639.3L69.6 642L71.5 638.4L73.4 636.2L75.3 637.4L77.2 638L79.1 633L81 632.5L82.9 631.8L84.8 630.2L86.4 631.4L88.6 628.5L90.5 627.5L92.4 628.2L94.3 625.2L96.2 625.9L98.1 622.9L100 621.6L101.9 617.3L104.5 624.5L105.7 621.1L107.6 621.4L109.5 620.6L111.4 620.6L113.3 620.2L115.5 622.7L117.1 618.5L119 615.6L120.9 618.7L122.8 618.4L124.7 621.6L126.6 621.9L128.5 619.6L130.4 619.3L132.3 620.6L133.6 623.8L136.1 618.6L138 624.4L139.9 623.2L141.8 627.3L143.7 625.2L146.4 627.2L147.5 625L148.5 621.6L150 613.3L151.5 620.2L153 627.9L155.5 627.9L157 627.3L158.9 630.8L160.8 632.9L162.7 634.5L162.7 634.5L164.6 634.6L166.5 638L168.4 640.1L170.3 643.3L172.2 645.8L174.1 646L176 645.8L177.3 649L179.8 650.2L181.7 650.5L183.6 653.9L185.5 653.9L187.4 658.4L189.3 657.8L191.2 659.5L193.1 660.1L195.5 660.8L196.9 661.2L198.8 663.3L200.7 663.8L202.6 665.9L204.5 666.5L206.4 665.5L208.3 668.4L210.2 667.3L212.1 669.3L213.6 670.5L215.9 669.1L217.8 673.1L219.7 674.1L221.6 674.6L223.5 675.2L225.4 676.2L227.3 676.3L229.2 678.3L231.8 679.2L233 680.8L234.9 680.1L236.8 683.2L238.7 684.3L240 684.3L242.5 685L244.4 686.6L246.3 685L248.2 687.7L250.1 688L252 688.5L253.6 689L255.8 688.5L257.7 689.4L259.6 690.7L261.5 691L263.4 691.2L265.3 689.9L267.2 692.4L269.1 693.4L271 693.6L272.9 693.2L274.8 690.2L276.7 694.5L278.6 693.7L280.9 691.6L282.4 694.6L284.3 692.9L286.2 693.3L288.1 694.1L290 696.1L291.9 694.2L293.8 695.4L295.7 697L297.6 696.9L299.5 695.3L301.4 695.3L303.3 694.4L305.2 695.1L307.1 696.3L308.2 696.4L310.9 696.4L312.8 697.4L314.7 695.8L316.6 696.7L318.5 697.7L320.4 697.7L322.3 699.4L324.2 698.3L326.1 697.3L328 698.5L329.9 696.9L331.8 696.4L333.7 699.3L335.4 698.1L337.5 698.6L339.4 696.6L341.3 698L343.2 697.8L345.1 696.7L347 696.2L348.9 698.2L350.8 699.5L352.7 699L354.6 697.4L356.5 698.7L358.4 700.2L360.3 695.9L362.7 698.5L364.1 699.2L366 699.1L367.9 699.8L369.8 698.7L371.7 697.4L373.6 696.9L375.5 696.9L377.4 694.7L379.3 695.4L381 696.3L383.1 697.6L385 696L386.9 696.7L388.7 697.3L390.7 698.7L392.6 697.5L394.5 699.1L396.4 696.8L398.3 697.7L400.2 697.6L402.1 698.9L404 700.3L405.9 696.8L407.8 697.5L409.1 698.8L411.6 698L413.5 697.3L415.4 700L417.3 700L419.2 699.7L421.1 698.8L423 700.4L424.9 699.3L426.8 700.7L428.7 698.8L430.6 699L432.5 700.4L434.4 699.4L436.3 700.9L438.2 700.6L440.1 699.6L442 700.7L443.9 700.4L445.8 701.9L447.7 700.5L449.6 700.8L451.5 702.6L452.7 706L455.3 705.7L457.2 702L459.1 702.3L461 705.4L462.9 702.4L464.8 701.7L466.7 703L468.6 703.6L470.5 702.5L472.4 701.9L474.3 702.4L476.2 704.7L478.9 703.6L480 704.4L481.9 705L483.8 705.7L485.7 705.1L487.6 706.2L489.5 704.3L491.4 706L493.3 705.7L495.2 708.2L497.1 707.3L499 706.9L500.9 707.2L502.2 707.9L504.7 709.1L506.6 705.5L508.5 707.9L510.4 708.4L512.3 711.9L514.2 710.6L516.1 709.8L518 710.8L519.9 712.4L521.8 710.3L523.7 710.4L525.6 712.2L527.5 711.6L529.4 712L531.3 711L532.3 713.5" fill="none" stroke="#8a8a8a" stroke-width="1.1" stroke-linejoin="round"/>
<path d="M52.5 639.7L54.4 636.2L56.3 639.9L58.2 638.9L60 631.4L62 632.5L63.9 636.2L65.8 634.6L67.7 633.9L69.6 631.8L71.8 631.7L73.4 632.3L75.3 628.1L77.2 627.4L79.1 621.6L81 622.6L82.9 618.5L84.8 619.5L86.4 616L88.6 613.1L90.5 614.8L92.4 610.5L94.3 609.3L96.2 604.1L98.1 608.8L100 608.7L101.9 608.7L104.5 605.2L105.7 606.9L107.6 604.1L109.5 603L111.4 603.3L113.3 603.4L115.2 600.1L117.1 599.5L119 599L120.9 598.8L122.7 596.5L124.7 599.6L126.6 596.6L128.5 597.9L130.4 595.2L132.3 597.2L134.2 597L136.1 595.2L138 599.3L139.9 595.9L141.8 598L142.7 596.3L143.7 593L145.6 593.1L147 592.7L149.8 581.4L151.3 576.3L153 572.9L154.4 582.8L156.3 594.3L158.1 604.7L160.8 610.9L162.8 612.2L164.6 614.2L166.5 616.4L168.4 619L170.3 618.6L172 618.6L174.1 624.6L176 627.1L177.3 629.9L179.8 635.4L181.7 633.4L183.6 639.5L185.5 636L187.4 640.5L189.3 640.7L191.2 642.5L193.1 644.9L195.5 648.7L196.9 646.8L198.8 648L200.7 647.2L202.6 652.4L204.5 650.9L206.4 654.1L208.3 653.6L210.2 657.9L212.1 648.3L213.6 655.9L215.9 659.1L217.8 657.7L219.7 657.7L221.6 659.5L223.5 658.2L225.4 661.7L227.3 666.7L229.2 664.9L231.8 661.5L233 662.3L234.9 663.6L236.8 666.7L238.7 663.7L240 664.2L242.5 667.2L244.4 668.7L246.3 666.3L248.2 665.8L250.1 665.6L252 666.1L253.6 665.3L255.8 669.6L257.7 668.1L259.6 669.9L261.5 672L263.4 671.5L265.3 668.8L267.2 671.7L269.1 672.4L271 670.2L272.9 670.2L274.8 671.6L276.7 669.8L278.6 674L280.9 669.2L282.4 671L284.3 672.2L286.2 672.3L288.1 673L290 673.2L291.9 672.6L293.8 674.5L295.7 670.3L297.6 673.1L299.5 672.3L301.4 673.5L303.3 673.7L305.2 672.3L307.1 672.7L308.2 674.6L310.9 674.2L312.8 673L314.7 676.6L316.6 677.1L318.5 672.4L320.4 674.8L322.3 677.7L324.2 675.6L326.1 675.3L328 674.5L329.9 674.2L331.8 674.7L333.7 674.3L335.4 676L337.5 674.5L339.4 674.4L341.3 673.4L343.2 674.8L345.1 673.6L347 674.5L348.9 677.3L350.8 675L352.7 675.1L354.6 674.7L356.5 674.2L358.4 673.8L360.3 673.4L362.7 674.6L364.1 672L366 674.9L367.9 672.8L369.8 671.3L371.7 671.1L373.6 670.9L373.6 670.9L375.5 668.8L377 667.7L379.5 661L381.5 661L383.5 666.6L385 668.3L386 671L386.9 673L388.7 674.6L390.7 672.1L392.6 672.8L394.5 676L396.4 674.1L398.3 673.6L400.2 676.3L402.1 676.7L404 675.1L405.9 673.7L407.8 673.7L409.1 674L411.6 672.3L413.5 671.6L415.4 672.9L417.3 671.4L419.2 672.5L421.1 672.6L423.6 675.4L424.9 671.3L426.8 672.3L428.7 672.3L430.6 673.1L432.5 674L434.4 672.1L436.3 671.8L438.2 670.9L440.1 672L442 674.1L443.9 673.6L445.8 672.4L447.7 673.4L449.6 674.1L451.5 674.9L452.7 673.6L455.3 674.4L457.2 672.7L459.1 673.9L461 677.8L462.9 673.3L464.8 676.1L466.7 677.6L468.6 676.9L470.5 676.8L472.4 678.1L474.3 678.5L476.2 678.7L478.9 676.7L480 678.8L481.9 678.2L483.8 678.7L485.7 679.8L487 680.4L489.5 681.3L491.4 680.1L493.3 682.8L495.2 684L497.1 684.9L499 687.9L500.9 684.9L502.2 685.3L504.7 687.3L506.6 685L508.5 687.5L510.4 687.1L512.3 687.7L514.2 686.3L516.7 687.8L518 689.2L519.9 690.6L521.8 691L523.7 689.9L525.6 689.9L527.5 689.3L529.4 691.6L531.3 690.3L532.3 691.5" fill="none" stroke="#111" stroke-width="1.5" stroke-linejoin="round"/>
<path d="M52.5 595.9L54.4 597.7L56.3 588.8L58.2 592.3L60.1 595.7L62 590.3L63.9 591.7L65.8 589.3L68 586.1L69.6 586.3L71.5 584.7L73.4 583.5L75.3 584.5L77.2 583L79.1 579.5L81 577.7L82.9 579.3L84.8 577L86.4 578.3L88.6 580.2L90.5 576L92.4 573.6L94.3 572.6L96.2 570.6L98.1 569.7L100 567L101.9 569.3L104.5 568.3L105.7 570.1L107.6 567.3L109.5 567.1L111.4 562.4L113.3 569.4L115.2 566.7L117.1 571.8L119 566.2L120.9 566.9L122.7 563.1L124.7 564.4L126.6 567.6L128.5 559.9L130.4 564L132.3 564.5L134.2 561.7L136.1 561.8L138 562.1L139.9 557.7L141.8 558.8L142.7 555.9L144.3 554.7L145.6 552.9L147 550L148.9 540.6L150.6 520.1L152.6 502.5L153.7 520.2L154.4 540.7L156.3 550.1L159.1 564.5L160.8 569.7L162.8 574.5L164.6 577.4L166.5 577.7L168.3 582.8L170.3 588.2L172.2 580.3L173.9 586.2L176 589.1L177.3 590.8L179.8 596.9L181.7 593.3L183.6 597.5L185.5 601.4L187.4 599.3L189.3 600.6L191.2 602.9L193.1 603L195.5 608.4L196.9 604.7L198.8 609.4L200.7 606.6L202.6 611.5L204.5 611.2L206.4 607.7L208.3 613.6L210.2 612.7L212.1 614.8L213.6 619.3L215.9 615.4L217.8 616.3L219.7 621.9L221.6 620.2L223.5 623.7L225.4 622.1L227.3 620.5L229.2 622.7L231.8 625.9L233 625.7L234.9 624.4L236.8 624.9L238.7 625L240 624.4L242.5 628.6L244.4 626.5L246.3 625.5L248.2 626.8L250.1 628.8L252 629.9L253.6 628.4L255.8 628.2L257.7 629.6L259.6 627.8L261.5 628.7L263.4 632L265.3 630.7L267.2 632.3L269.1 633.8L271 634.4L272.9 633L274.8 636.2L276.7 634.5L278.6 633.4L280.9 635.1L282.4 634.8L284.3 633.2L286.2 634.6L288.1 634.4L290 632.1L291.9 634.6L293.8 634.5L295.7 634.4L297.6 632.9L299.5 634.6L301.4 635.1L303.3 635.4L305.2 632.3L307.1 636.2L308.2 633.8L310.9 635.2L312.8 637.3L314.7 634.7L316.6 635L318.5 637.1L320.4 634.8L322.3 635.4L324.2 636.2L326.1 637.3L328 633L329.9 634.9L331.8 634.7L333.7 634.6L335.4 634.9L337.5 634.9L339.4 636.4L341.3 634.8L343.2 636.1L345.1 636.9L347 634.8L348.9 635.9L350.8 637.8L352.7 636L354.6 634.6L356.5 635.2L358.4 632.8L360.3 635.4L362.7 636L364.1 633.7L366 634.3L367.9 635.8L369.8 633.3L371.7 633.7L373.6 632.7L373.6 632.7L375.5 629.5L376.5 627.6L377.4 622.9L378.8 615.9L381 610.2L383 616.9L385 627.3L385 627.3L386.9 631.4L388.7 631.8L390.7 633.7L392.6 632.5L394.5 633.1L396.4 630.7L398.3 632.6L400.2 632.8L402.1 632.6L404 630.3L405.9 634.2L407.8 632.6L409.1 632.5L411.6 632.7L413.5 632.7L415.4 633.4L417.3 631.1L419.2 631.4L421.1 632.9L423.6 632.7L424.9 632L426.8 631.8L428.7 631.5L430.6 632.6L432.5 635.8L434.4 631.5L436.3 635L438.2 634.2L440.1 632.7L442 634.5L443.9 631.8L445.8 631.6L447.7 632.3L449.6 633.7L451.5 634L452.7 633.8L455.3 635L457.2 632.4L459.1 636.2L461 634.1L462.9 635.5L464.8 636.3L466.7 634.3L468.6 635.9L470.5 636.7L472.4 638.3L474.3 639.4L476.2 640.2L478.9 637.6L480 637.5L482.5 635.4L483.8 634.2L485 630.9L487.5 631L490 634.7L491.4 637.6L493.5 642.3L495.2 644.4L497.1 644.7L499 646.5L500.9 646L502.2 647.8L504.7 648.5L506.6 647.2L508.5 649.6L510.4 648.3L512.3 648.6L514.2 647.5L516.7 648.7L518 650.3L519.9 647.9L521.8 651.6L523.7 650.7L525.6 650.9L527.5 647.9L529.4 650.9L531.3 652.1L532.3 650.4" fill="none" stroke="#111" stroke-width="1.5" stroke-linejoin="round"/>
<path d="M52.5 573L54.4 572.6L56.3 570.7L58.2 571.4L60.1 569.1L62 564.5L63.9 563.8L65.8 560.5L68 561.4L69.6 560.1L71.5 563.1L73.4 557.7L75.3 552.7L77.2 553.9L79.1 554L81 550.5L82.9 548.5L84.8 549.6L86.4 549.7L88.6 547.3L90.5 544.7L92.4 546.1L94.3 542.5L96.2 541.2L98.1 538.3L100 538L101.9 539.1L104.5 533.7L105.7 535.6L107.6 535.8L109.5 532.4L111.4 533L113.3 529.9L115.2 535.1L117.1 531.7L119 529.4L120.9 525.2L122.7 525.6L124.7 528L126.6 528.3L128.5 525.1L130.4 525.8L132.3 521.8L134.2 521.7L136.1 521.2L138 521.2L139.9 517.3L141.8 520.8L142.7 521.2L143.7 518.1L146.1 517.7L147 507.2L148.2 502.9L149.4 490L149.4 490L150.9 455L152.6 427.4L154.1 460.2L155.4 494.2L157.2 512.7L159.1 520L160.9 529.1L162.7 532.1L164.6 535.5L166.5 537.5L166.5 537.5L168.4 542L170.3 544.8L172.2 548.7L173.9 550.4L176 553L177.9 556.1L179.8 556.6L181.7 561.6L183.6 558.8L185.5 561.6L188.2 562.2L189.3 564.9L191.2 568.1L193.1 571.3L195 568.3L196.9 572.1L198.8 572.9L200.9 573.8L202.6 574.2L204.5 577.4L206.4 572.8L208.3 579.7L210.2 580.6L212.1 580.5L213.6 580.6L215.9 581.1L217.8 587.2L219.7 582.7L221.6 588.2L223.5 587.4L225.4 586.5L226.3 585.6L227.3 589.6L229.2 591.6L231.1 588L233 589.9L234.9 592.9L236.8 592.5L238.7 596L240 592.3L242.5 595.3L244.4 593.2L246.3 597.7L248.2 595L250.1 593.8L252 596.8L253.6 597.1L255.8 600.1L257.7 597.9L259.6 598.8L261.5 600L263.4 601.6L265.3 600.2L267.2 601.9L269.1 601.7L271 601.1L272.9 601.9L274.8 602.2L276.7 601.3L278.6 604L280.9 601.1L282.4 604.1L284.3 603.9L286.2 602.8L288.1 602L290 602.7L291.9 603.5L293.8 603.9L295.7 603.4L297.6 604.2L299.5 602.5L301.4 603.4L303.3 601.4L305.2 604.1L307.1 603.4L308.2 602.8L310.9 604.7L312.8 604.2L314.7 600.3L316.6 603.6L318.5 602L320.4 605L322.3 606.7L324.2 603.3L326.1 604L328 603.7L329.9 604.4L331.8 604.8L333.7 605.6L335.4 603L337.5 605.9L339.4 602.9L341.3 604.2L343.2 605.1L345.1 604.4L347 602.4L348.9 602.4L350.8 602.5L352.7 602.7L354.6 603.8L356.5 600.8L358.4 602.5L360.3 602.4L362.7 602L364.1 601.8L366 602.7L367.9 601.2L370.5 601L371.7 600L373.6 598.1L374.5 595.5L375.5 593.5L377 585L379 566L380.6 558.3L382.4 565.5L384.5 585.9L386.5 593.8L388.7 597L390.7 595.3L392.6 599L394.5 597.8L396.4 597.4L398.3 597.1L400.2 597.1L402.1 596.8L404 596.9L405.9 598.2L407.8 598L409.1 596.6L411.6 597.8L413.5 596.8L415.4 597.8L417.3 599.5L419.2 597.8L421.1 596.5L423.6 594.8L424.9 595.1L426.8 594.9L428.7 598.6L430.6 596.3L432.5 597.5L434.4 597L436.3 598.1L438.2 599.9L440.1 597.9L442 598.7L443.9 598.5L445.8 600.8L447.7 599L449.6 599.3L451.5 599.3L452.7 597.9L455.3 602.1L457.2 604.9L459.1 601.2L461 603.9L462.9 603.5L464.8 602.3L466.7 603.7L468.6 604.1L470.5 603.9L472.4 607.2L474.3 603.1L476.2 605.8L478.9 605.9L480 604.5L482 602.1L484.5 594.3L485.7 590.1L486.8 588.1L489 593.4L491 600.2L493.5 607.5L495.2 611.3L497.1 611.2L499 612.4L500.9 608.9L502.2 612.6L504.7 612.8L506.6 613.8L508.5 616.2L510.4 614.8L512.3 616.1L514.2 614.5L516.7 616.9L518 617.4L519.9 616.7L521.8 616.1L523.7 620.2L525.6 616.8L527.5 617.1L529.4 616.6L531.3 619.9L532.3 620.9" fill="none" stroke="#111" stroke-width="1.5" stroke-linejoin="round"/>
<path d="M9.5 410.9Q-0.5 426.8 9.5 442.7L12.3 442.7Q5.7 426.8 12.3 410.9Z" fill="#000"/>
<path d="M38.7 410.9Q47.7 426.8 38.7 442.7L35.9 442.7Q41.5 426.8 35.9 410.9Z" fill="#000"/>
<text transform="translate(15.2 436) scale(0.86 1)" font-family='"Liberation Sans", sans-serif' font-weight="bold" font-size="33" fill="#000" stroke="#000" stroke-width="1.1" stroke-linejoin="round">b</text>
<path d="M54.7 810.5H533.2" stroke="#333" stroke-width="1.6" fill="none"/>
<path d="M533.2 810.5V1128.8" stroke="#777" stroke-width="1.6" fill="none"/>
<path d="M54.7 810.5V1128.8" stroke="#8a8a8a" stroke-width="1.8" fill="none"/>
<path d="M53.8 1128.8H534" stroke="#505050" stroke-width="1.7" fill="none"/>
<g stroke="#333" stroke-width="1.5" fill="none">
<path d="M54.7 828.8h6.5"/>
<path d="M54.7 875.8h3.5"/>
<path d="M54.7 922.7h6.5"/>
<path d="M54.7 969.6h3.5"/>
<path d="M54.7 1016.6h6.5"/>
<path d="M54.7 1063.5h3.5"/>
<path d="M54.7 1110.5h6.5"/>
<path d="M78.6 1128.8v-3.5"/>
<path d="M102.6 1128.8v-3.5"/>
<path d="M126.5 1128.8v-3.5"/>
<path d="M150.4 1128.8v-3.5"/>
<path d="M174.3 1128.8v-7"/>
<path d="M198.2 1128.8v-3.5"/>
<path d="M222.2 1128.8v-3.5"/>
<path d="M246.1 1128.8v-3.5"/>
<path d="M270 1128.8v-3.5"/>
<path d="M294 1128.8v-7"/>
<path d="M317.9 1128.8v-3.5"/>
<path d="M341.8 1128.8v-3.5"/>
<path d="M365.7 1128.8v-3.5"/>
<path d="M389.7 1128.8v-3.5"/>
<path d="M413.6 1128.8v-7"/>
<path d="M437.5 1128.8v-3.5"/>
<path d="M461.4 1128.8v-3.5"/>
<path d="M485.4 1128.8v-3.5"/>
<path d="M509.3 1128.8v-3.5"/>
</g>
<g font-family='"Liberation Sans", sans-serif' font-weight="bold" fill="#111">
<text x="55" y="1150" text-anchor="middle" font-size="17.3" textLength="21.8" lengthAdjust="spacingAndGlyphs">20</text>
<text x="174.6" y="1150" text-anchor="middle" font-size="17.3" textLength="21.8" lengthAdjust="spacingAndGlyphs">30</text>
<text x="294.3" y="1150" text-anchor="middle" font-size="17.3" textLength="21.8" lengthAdjust="spacingAndGlyphs">40</text>
<text x="413.9" y="1150" text-anchor="middle" font-size="17.3" textLength="21.8" lengthAdjust="spacingAndGlyphs">50</text>
<text x="533.5" y="1150" text-anchor="middle" font-size="17.3" textLength="21.8" lengthAdjust="spacingAndGlyphs">60</text>
<text x="231.5" y="1173.1" font-size="19" textLength="98" lengthAdjust="spacingAndGlyphs">2&#920; degree</text>
<text transform="translate(40.7 966.4) rotate(-90)" text-anchor="middle" font-size="21.3" textLength="137.5" lengthAdjust="spacingAndGlyphs">intensity(a.u.)</text>
<text x="79.9" y="916.4" font-size="13.6" textLength="49" lengthAdjust="spacingAndGlyphs">x = 0.28</text>
<text x="80.9" y="980.1" font-size="13.6" textLength="49" lengthAdjust="spacingAndGlyphs">x = 0.18</text>
<text x="82" y="1024.4" font-size="13.6" textLength="49" lengthAdjust="spacingAndGlyphs">x = 0.13</text>
<text x="79.8" y="1074.6" font-size="13.6" textLength="49" lengthAdjust="spacingAndGlyphs">x = 0.08</text>
</g>
<text x="344.2" y="846.6" font-family='"Liberation Sans", sans-serif' font-size="16.9" fill="#222" textLength="68.5" lengthAdjust="spacingAndGlyphs">KrF laser</text>
<path d="M55.5 1093.7L57 1091.7L58.5 1089.8L60 1091.1L61.5 1090.3L63 1088.4L64.5 1089L66 1088.4L67.5 1089.8L69 1088.8L70.5 1087L72 1087.7L73.5 1086.7L75 1087.9L76.8 1086L78 1084.7L79.5 1085.5L81 1085.2L82.5 1084.6L84 1083.4L85.5 1084.4L87 1085.1L88.5 1082.9L90 1084L91.5 1083L93 1084.3L94.5 1083.2L96 1082.4L97.5 1082.8L98.6 1082.5L100.5 1081.5L102 1081.9L103.5 1081.1L105 1080L106.5 1083.2L108 1081L109.5 1080.3L111 1080.6L112.5 1079.4L114 1079.1L115.5 1079.5L117 1079.4L118.5 1079.6L120.5 1080.1L121.5 1079.1L123 1079.4L124.5 1079.3L126 1078.2L127.5 1078.6L129 1077.8L130.5 1079.3L132 1078.5L133.5 1077.9L135 1076.8L136.5 1077.3L138 1076.7L139.5 1077.7L141 1076.8L142.3 1076L144 1076.7L145.5 1076.6L147 1075.5L148.5 1076.8L150 1075L152 1073.5L153.3 1065L154.3 1045L155.5 1032L157.5 1028.1L159.2 1032L160.2 1045.1L161 1065L162 1075.6L163.5 1077.6L165 1078.8L166.5 1079.7L168.5 1080.1L169.5 1081.7L171 1081.1L172.5 1080.5L174 1082.3L175 1081.9L177 1082.6L178.5 1081.7L180 1084.6L181.5 1086.1L183 1086.5L184.5 1087.1L185.4 1087.9L187.5 1087.5L189 1088.4L190.5 1087.9L192 1088.1L193.5 1089.5L195 1089.7L196.5 1088.9L198 1090.1L199.5 1090.2L201 1090.1L202.5 1091.1L204 1091L205.5 1090.5L207 1090.9L208.5 1093L210 1090.7L210.9 1092.3L213 1093.2L214.5 1093.6L216 1092.7L217.5 1093.3L219 1093.9L220.5 1094.6L222 1094.1L223.5 1093.8L225 1095.2L226.5 1096.4L228 1095.7L229.5 1095.2L231 1095.8L232.5 1095.9L234 1096.5L235.5 1095.6L236.3 1096.2L237 1096.3L238.5 1095.9L240 1096.7L241.5 1096.9L243 1096.8L244.5 1097.4L246 1096.6L247.5 1097.3L249 1097.9L250.5 1098.2L252 1098.7L253.5 1097.6L255 1097.3L256.5 1098.4L258 1098.8L259.5 1100L261 1099.5L261.8 1098.5L262.5 1099.4L264 1098.7L265.5 1098.3L267 1100.8L268.5 1100L270 1100.2L271.5 1100.2L273 1101.1L274.5 1100.5L276 1101L277.5 1099.9L279 1099.5L280.5 1101.2L282 1101.7L283.5 1101.2L285 1101.1L286.5 1101L287.2 1100.5L288 1101.8L289.5 1101.5L291 1101.4L292.5 1101.4L294 1101.8L295.5 1101.6L297 1102.2L298.5 1100.7L300 1101.4L301.5 1102.6L303 1101.2L304.5 1101.1L306 1101.8L307.5 1101.9L309 1101.8L310.5 1100.4L312 1101.7L313.5 1100.6L315 1100.6L316.5 1101.5L318 1101.1L319.5 1101.7L321 1103.3L322.5 1102.1L324 1101.9L325.5 1100.9L327.3 1100.8L328.5 1100.6L330 1100.9L331.5 1100.6L333 1100.8L334.5 1101.1L336 1100.8L337.5 1100.4L339 1100.4L340.5 1101.6L342 1101.6L343.5 1102.2L345 1102.3L346.5 1101.6L348 1102L349.5 1100.9L351 1102.9L352.5 1102.7L354 1101.8L355.5 1101L356.4 1101.8L358.5 1100.6L360 1101L361.5 1101.9L363 1101.7L364.5 1101.2L366 1101.9L367.5 1100.7L369 1101.1L370.5 1100.6L372 1100.1L373.5 1100.5L375 1098.9L376.5 1100.2L377.5 1099.4L379 1096.4L380.3 1087.8L381.5 1082.5L383 1080.9L384.4 1082.9L385.5 1090L386.6 1096.6L388.5 1099.2L390 1100.1L391.5 1099.2L393 1099.6L394.5 1099.8L396 1100.4L397.5 1098.7L399 1100.4L400 1100.1L402 1099.4L403.5 1098.9L405 1098.4L406.5 1098.5L408 1099.7L409.5 1099.2L411 1098.8L412.5 1099.1L414 1100.5L415.5 1099.6L417.3 1099.2L418.5 1100.3L420 1100L421.5 1099.8L423 1099.3L424.5 1098.7L426 1098.8L427.5 1099.3L429 1099.6L430.5 1100L432 1100.3L433.5 1100.3L435 1100.4L436.5 1099.6L438 1097.5L439.5 1099.4L441 1099.5L442.5 1099.8L444.5 1100.1L445.5 1099.6L447 1099.7L448.5 1100.3L450 1100.6L451.5 1100.3L453 1101L454.5 1100.7L456 1100.2L457.5 1100.8L459 1102.1L460.5 1100.9L462 1101.8L463.5 1102.1L465 1102.3L466.5 1101L468 1102.4L469.5 1101.6L471 1101.2L471.8 1101.1L472.5 1101.6L474 1101.4L475.5 1101.1L477 1101.8L478.5 1100.6L480 1100L481.4 1100.7L483 1099.1L485 1096.8L486 1094.7L487.5 1094.6L488.2 1094.4L489 1095.2L490.5 1096.8L492.3 1101.8L493.5 1102L495 1101.5L496.5 1102.1L498 1104.2L499.5 1103.2L501 1102.9L502.5 1103.9L504 1104.3L505.5 1104.4L507 1103.4L508.5 1103.7L510 1104.5L511.5 1103.7L512.7 1103.5L514.5 1104.5L516 1105.2L517.5 1103.7L519 1102.6L520.5 1103.1L522 1103.5L523.5 1104.1L525 1104.7L526.5 1104.4L528 1104L529.5 1104.5L531 1103.9L532.6 1104.4" fill="none" stroke="#1a1a1a" stroke-width="1.5" stroke-linejoin="round"/>
<path d="M55.5 1049.5L57 1049.1L58.5 1048L60 1048.6L61.5 1048.2L63 1046.8L64.5 1045.7L65.9 1044.6L67.5 1044.8L69 1044.8L70.5 1043.1L72 1042.7L73.5 1041.2L75 1039.1L76.8 1038.9L78 1040.9L79.5 1040.8L81 1042L82.5 1040.2L84 1040.7L85.5 1043L87 1041.2L88.5 1038.8L90 1038.8L91.5 1039.1L93 1037.6L94.5 1039.1L96 1040L97.5 1038.2L98.6 1040.8L100.5 1038.3L102 1037.8L103.5 1037.6L105 1036.8L106.5 1038.4L108 1037.6L109.5 1039.4L111 1038.3L112.5 1037.9L114 1036.8L115.5 1035L117 1036.2L118.5 1035.5L120.5 1037.6L121.5 1036.8L123 1038.7L124.5 1038.9L126 1038.1L127.5 1037.2L129 1037L130.5 1037.5L132 1037.9L133.5 1036L135 1037.1L136.5 1040L138 1037.2L139.5 1036.4L141 1035.7L142.3 1034.6L144 1037.6L145.5 1036.5L147 1036.2L148.8 1036.5L150 1034.8L151 1032L152.3 1025.1L153.2 1005.1L154.2 988L155.3 984.4L156.5 988L157.6 1005.1L158.5 1025.1L160.3 1035.6L162.5 1039.7L163.5 1041.3L165 1041.8L166.5 1042.3L168.5 1045L169.5 1044.2L171 1043.8L172.5 1043.2L174 1044.1L175 1043.8L177 1046.1L178.5 1047.6L180 1045.8L181.5 1048.9L183 1051.1L184.5 1051.7L185.4 1050.7L187.5 1054.2L189 1053L190.5 1052.6L192 1053.2L193.5 1055.2L195 1057.3L196.5 1059.9L198 1058.3L199.5 1056.6L201 1057.4L202.5 1057.7L204 1059.1L205.5 1057.8L207 1060.3L208.5 1061.9L210 1061.7L210.9 1062.6L213 1061.7L214.5 1061.2L216 1062.6L217.5 1065.5L219 1066.3L220.5 1065L222 1067.2L223.5 1065.7L225 1068.5L226.5 1068.1L228 1067.2L229.5 1068.9L231 1067.6L232.5 1067.4L234 1067L235.5 1069.3L236.3 1069.5L237 1069.6L238.5 1069.5L240 1072L241.5 1070.4L243 1069.9L244.5 1072.4L246 1073.4L247.5 1072.4L249 1069.8L250.5 1070.8L252 1072.7L253.5 1072.5L255 1074.5L256.5 1071.5L258 1073.5L259.5 1072.5L261 1074.8L261.8 1073.6L262.5 1074.8L264 1073.1L265.5 1072L267 1072.3L268.5 1073.1L270 1072.9L271.5 1075.8L273 1076.6L274.5 1075.6L276 1073.9L277.5 1074.8L279 1074.4L280.5 1077.1L282 1076.3L283.5 1076.4L285 1075.4L286.5 1073.2L287.2 1074.3L288 1072.7L289.5 1075.7L291 1076L292.5 1074.9L294 1075.2L295.5 1077.8L297 1075.1L298.5 1074.7L300 1075.2L301.5 1075L303 1075.3L304.5 1076.6L306 1078.3L307.5 1074.3L309 1075.7L310.5 1076.1L312 1076.1L313.5 1075.9L315 1075.7L316.5 1078.6L318 1076.1L319.5 1076.1L321 1076.3L322.5 1076.6L324 1076L325.5 1077.5L327.3 1076.6L328.5 1076.7L330 1076.4L331.5 1075.3L333 1075.3L334.5 1075L336 1076.6L337.5 1075.8L339 1075.3L340.5 1076.8L342 1077.5L343.5 1074.9L345 1078.7L346.5 1077.4L348 1077L349.5 1078.4L351 1077.5L352.5 1076.5L354 1079.8L355.5 1076.4L356.4 1076.9L358.5 1078.2L360 1076L361.5 1076.8L363 1077.5L364.5 1080L366 1076.4L367.5 1076.5L369 1077.3L370.5 1076.6L372 1074.6L373.5 1076L375 1075.5L376.5 1075.1L378 1071.2L379.2 1062.3L380.2 1055.6L381.6 1053.1L382.5 1053.9L383.2 1055.9L384.5 1064L385.8 1071.9L387 1075L387.8 1075.4L388.5 1076.9L390 1079L391.5 1076.2L393 1076.7L394.5 1076L396 1077.8L397.5 1077.2L399 1076.6L400 1076.2L402 1076.6L403.5 1075.3L405 1077.2L406.5 1075.9L408 1077.9L409.5 1077.4L411 1078.4L412.5 1077.2L414 1078.4L415.5 1076.2L417.3 1077.8L418.5 1077.1L420 1077.5L421.5 1077.5L423 1078.7L424.5 1075.3L426 1077.6L427.5 1075.8L429 1078.9L430.5 1075.6L432 1076.3L433.5 1075.6L435 1079.7L436.5 1076.9L438 1078.1L439.5 1077.6L441 1076L442.5 1077.6L444.5 1079.2L445.5 1078.6L447 1079.9L448.5 1078.6L450 1078.9L451.5 1078.5L453 1079.5L454.5 1081.7L456 1080.3L457.5 1079.9L459 1078.8L460.5 1078.5L462 1081.3L463.5 1078.7L465 1078.5L466.5 1079.5L468 1079.3L469.5 1082.3L471 1077.5L471.8 1080L472.5 1080.9L474 1078.7L475.5 1078.8L477 1080L478.5 1081.5L480 1078.3L481.4 1077.9L483 1075.1L484.5 1070.6L486 1066.6L486.8 1065.1L487.5 1066.8L489.5 1072L490.5 1075.3L492.3 1078.7L493.5 1079L495 1079.5L496.5 1084.2L498 1083.6L499.1 1079.1L501 1078.8L502.5 1083.4L504 1081.4L505.5 1080.3L507 1081.8L508.5 1082.1L510 1082.3L511.5 1082L512.7 1082.2L514.5 1081.7L516 1083.2L517.5 1082.2L519 1082.8L520.5 1083.3L522 1085.3L523.5 1084.7L525 1084.1L526.5 1084.9L528 1085L529.5 1086L531 1085.6L532.6 1087.3" fill="none" stroke="#1a1a1a" stroke-width="1.5" stroke-linejoin="round"/>
<path d="M55.5 998.4L57 998.4L58.5 997.8L60 997.7L61.5 996.9L63 994.9L64.5 994.4L66 992L67.5 994.7L68.2 994.5L69 995.9L70.5 993.5L72 991.5L73.5 993.9L75 993.1L76.5 992.8L78 992.6L79.5 993.5L81 993L82.5 991.1L84 992.7L85.5 991.6L86.4 991L88.5 992.7L90 992.2L91.5 990.8L93 989L94.5 990.2L96 990.3L97.5 989.5L99 988.2L100.5 987.4L102 987.3L103.5 988.3L104.5 989.5L106.5 989.1L108 987.4L109.5 988L111 988L112.5 987.1L114 987.1L115.5 988.8L117 987.5L118.5 987.7L120 986.5L121.5 986.5L122.7 985L124.5 985.9L126 986.8L127.5 989.3L129 987.1L130.5 986L132 985L133.5 984.1L135 984L136.5 984.4L138 983L139.5 983.9L140.9 982.3L142.5 981.1L144 981.2L145.5 980.4L147 980.3L148 982.1L150.5 981L151.5 979.7L152.3 977L153.3 955L154.2 920L155.2 900L156.3 895.9L157.4 900L158.4 920L159.3 955L160.4 978L162 985L163.5 986.7L165 987.2L166.5 988.4L168 991.1L169.5 992.1L171 992.5L172.7 993.7L174 993.1L175.5 993.6L177 994.7L178.5 994.9L180 995.2L181.5 997.5L183 996.8L184.5 996.5L185.4 997.8L187.5 999.9L189 999.2L190.5 1000.4L192 999.6L193.5 999.8L195 1000L196.5 1000.9L198 1003L199.5 1001.3L201 1003.6L202.5 1002.3L204 1003L205.5 1004.3L207 1004.7L208.5 1004.9L210 1003.7L210.9 1005.2L213 1005L214.5 1008.2L216 1007L217.5 1007.5L219 1006.9L220.5 1007.7L222 1007.5L223.5 1009.7L225 1009.5L226.5 1010.4L228 1009.8L229.5 1010.1L231 1011.8L232 1010.4L234 1009.7L235.5 1011.4L236.3 1010.5L237 1010.3L239 1010.1L240 1008.3L241.4 1008.6L243 1009.9L244 1012.2L246 1014.4L247.5 1014L249 1014.5L250.5 1014.4L252 1015.4L253.5 1016.6L255 1014.9L256.5 1016.7L258 1014.2L259.5 1015.3L261 1013.5L261.8 1017.8L262.5 1017L264 1017.2L265.5 1016.6L267 1018.9L268.5 1016L270 1017.3L271.5 1019.4L273 1017.5L274.5 1017.8L276 1018.5L277.5 1017.6L279 1018.1L280.5 1019.1L282 1018.7L283.5 1018.9L285 1018.4L286.5 1018.9L287.2 1018.8L288 1019.9L289.5 1020.2L291 1019L292.5 1017L294 1019.2L295.5 1019.7L297 1018.5L298.5 1017.4L300 1017.9L301.5 1019.7L303 1018.5L304.5 1018.8L306 1019.4L307.5 1020.3L309 1019.5L310.5 1019.3L312 1018.9L313.5 1020.7L315 1021.4L316.5 1019.8L318 1018.4L319.5 1018.6L321 1019.8L322.5 1019L324 1020.9L325.5 1020.1L327.3 1020L328.5 1020.2L330 1020.6L331.5 1018.5L333 1019.2L334.5 1021.6L336 1019.2L337.5 1019.3L339 1020.7L340.5 1019.9L342 1018.6L343.5 1018.7L345 1020.2L346.5 1020.9L348 1021.4L349.5 1020.4L351 1021.1L352.5 1019.5L354 1020.2L355.5 1019.6L356.4 1020.4L358.5 1020.8L360 1021.2L361.5 1019.6L363 1022.1L364.5 1020.1L366 1018.4L367.5 1019.5L369 1018.6L370.5 1019.5L372 1019.8L373.5 1019.4L375 1019.7L376.7 1019.1L378.4 1015.5L379.5 1003.9L380.8 989L382.6 984.2L384.3 989L385.4 1004L386.6 1014.5L388.5 1018.3L390 1017.4L391.5 1018.6L393 1019.6L394.5 1019.8L396 1020.3L397.5 1020.8L399 1020.2L400 1019.7L402 1018.8L403.5 1018.6L405 1019L406.5 1019.6L408 1019.7L409.5 1019.5L411 1019.3L412.5 1019.9L414 1019.7L415.5 1019.7L417.3 1019.7L418.5 1019L420 1018.5L421.5 1019.7L423 1019.9L424.5 1019.4L426 1019.2L427.5 1021.4L429 1019.4L430.5 1019.5L432 1020.2L433.5 1019.1L435 1019.9L436.5 1023L438 1022.3L439.5 1021.2L441 1021L442.5 1020.6L444.5 1021.3L445.5 1020.6L447 1020.3L448.5 1020.8L450 1021.6L451.5 1021.4L453 1022.3L454.5 1019.8L456 1022L457.5 1025.4L459 1023.5L460.5 1021.8L462 1021.1L463.5 1022L465 1021.2L466.5 1022.5L468 1021.8L469.5 1023.7L471 1024.7L471.8 1021L472.5 1022.4L474 1021.6L475.5 1020.7L477 1021L478.5 1021.1L480 1021.8L481.4 1020.1L483 1017.3L485 1011.7L486 1009.1L487.5 1006.4L488.2 1005.8L489 1006.7L490.5 1012.1L492.3 1020.1L493.5 1021.6L495 1024.8L496.5 1025L498 1024.5L499.1 1025.5L501 1022.5L502.5 1023.3L504 1024.2L505.5 1024.2L507 1025.4L508.5 1024.9L510 1026.6L511.5 1026.8L512.7 1026.3L514.5 1025.4L516 1026.1L517.5 1026.5L519 1025.2L520.5 1026.2L522 1026.7L523.5 1026.5L525 1027.7L526.5 1027.7L528 1026.1L529.5 1026.6L531 1026L532.6 1027.1" fill="none" stroke="#1a1a1a" stroke-width="1.5" stroke-linejoin="round"/>
<path d="M55.5 940.3L57 941.2L58.5 941.3L60 938.3L61.5 938.1L63 936.6L64.5 936.8L65.9 936.3L67.5 937L69 935.6L70.5 934.5L72 934.8L73.5 933.5L75 932.8L76.8 934.4L78 932L79.5 931.6L81 931.6L82.5 930.5L84 929.2L85.5 931.2L87 929.9L88.5 929.7L90 929.5L91.5 928.8L93 928.3L94.5 929L96 930.7L97.5 929.5L98.6 929.1L100.5 925.7L102 927.2L103.5 926.3L105 927.4L106.5 926.6L108 926.4L109.5 926L111 925.3L112.5 924.2L114 925.5L115.5 923.9L117 923.6L118.5 924.1L120.5 923.1L121.5 924.2L123 924.9L124.5 924.4L126 924.1L127.5 923.9L129 924.4L130.5 922.3L132 923.6L133.5 922.8L135 922.3L136.5 923.1L138 922.9L139.5 923.5L141 924.8L142.3 921.3L144 922.3L145.5 924L147 923.2L148.8 922.5L150 920.5L151 918.3L152.6 914L153.6 895L154.3 860L155.2 835L156.3 827.6L157.4 835L158.4 860L159.2 895L160.2 914L161.8 921.2L163.5 925.1L165 928L167 929.4L168 929.8L169.5 930L171 933.5L172.7 934.2L174 937.1L175.5 936.9L177 937.5L178.5 936.7L180 939.8L181.5 939.5L183 940.2L184.5 939.3L185.4 942.6L187.5 944.3L189 943.1L190.5 943.9L192 944.9L193.5 946L195 946L196.5 947.8L198 947.1L199.5 947.1L201 947.3L202.5 946.6L204 948.2L205.5 951.2L207 950.9L208.5 950.4L210 951.6L210.9 950.2L213 952L214.5 953.4L216 954.3L217.5 953.8L219 955.5L220.5 957L222 955.9L223.5 957L225 955.7L226.5 955.3L228 957.5L230 957.5L231 957.6L232.5 956.8L234 956.4L236 957.2L237 956.3L238.5 953.1L239.5 950.8L242 948.8L243 950.1L244.5 954.3L246 957.3L247.5 961.1L249 962.4L250.5 963.4L252 962.4L253.5 963.8L255 964.5L256.5 965.5L258 966.4L259.5 965.9L261 968.1L261.8 966.4L262.5 966.6L264 967.4L265.5 966.5L267 968L268.5 968.4L270 967.9L271.5 969.7L273 968.7L274.5 968.8L276 967.9L277.5 967.2L279 968L280.5 968.5L282 968.6L283.5 969.7L285 967.5L286.5 968.2L287.2 967.8L288 970.4L289.5 969.5L291 969.5L292.5 969.2L294 970.9L295.5 970.3L297 970.8L298.5 969.2L300 971.5L301.5 971.3L303 971.5L304.5 972.1L306 970.9L307.5 971L309 971.7L310.5 971.6L312 971.1L313.5 971.3L315 970.9L316.5 971.8L318 972.2L319.5 971.5L321 974.4L322.5 970.8L324 971.2L325.5 972.8L327.3 971.5L328.5 970.3L330 972.5L331.5 972.3L333 970.9L334.5 972.3L336 971.1L337.5 970.7L339 971.6L340.5 971.6L342 971.1L343.5 971.7L345 971.3L346.5 972.1L348 972.3L349.5 972.9L351 972.1L352.5 971.3L354 971.2L355.5 972L356.4 973.6L358.5 973.3L360 972.1L361.5 973.1L363 971.5L364.5 972.9L366 971.6L367.5 972.4L369 972.4L370.5 971.4L372 971.5L373.5 970.2L375 970.4L376.7 970.3L378.5 966.3L379.6 950.1L380.8 933L382.6 927.4L384.3 933L385.4 949.9L386.6 963.9L388.5 968.5L390 968L391.5 970.3L393 970.6L394.5 969.5L396 969.3L397.5 968.8L399 968.7L400 970.2L402 971.3L403.5 970.9L405 970.9L406.5 970.3L408 971L409.5 969.7L411 970.7L412.5 972.2L414 972.4L415.5 971.1L417.3 971.1L418.5 972.5L420 973.2L421.5 970.8L423 970.8L424.5 971.8L426 972.9L427.5 971.5L429 972.5L430.5 972L432 976L433.5 973.5L435 972.6L436.5 972.3L438 973.4L439.5 973.4L441 971.2L442.5 972.8L444.5 972L445.5 972.3L447 972L448.5 972.1L450 972.7L451.5 972.7L453 974L454.5 974.6L456 974L457.5 973.3L459 974.8L460.5 972.9L462 972.7L463.5 974.9L465 975.3L466.5 976.5L468 975L469.5 972.9L471 974.1L471.8 975.2L472.5 974.4L474 973.6L475.5 973.4L477 973.4L478.5 975.4L480 974.3L481.4 973.4L483 968.6L484.5 961.8L486 955.6L487.6 951.1L489 956.9L490 962.2L492.3 973.2L493.5 974.9L495 976.8L496.5 976.1L498 976.6L499.1 978.1L501 977.8L502.5 977.7L504 978.7L505.5 978.8L507 979.6L508.5 979.6L510 978.6L511.5 978.8L512.7 979L514.5 978.1L516 978.3L517.5 980L519 977.1L520.5 980L522 980L523.5 979.8L525 980.4L526.5 980.5L528 981.2L529.5 980.1L531 980.1L532.6 980.1" fill="none" stroke="#1a1a1a" stroke-width="1.5" stroke-linejoin="round"/>
<path d="M9.5 805.9Q-0.1 821.8 9.5 837.7L12.3 837.7Q6.1 821.8 12.3 805.9Z" fill="#000"/>
<path d="M34.6 805.9Q44.4 821.8 34.6 837.7L31.8 837.7Q38.2 821.8 31.8 805.9Z" fill="#000"/>
<text transform="translate(15.6 831) scale(0.81 1)" font-family='"Liberation Sans", sans-serif' font-weight="bold" font-size="30.6" fill="#000" stroke="#000" stroke-width="1.1" stroke-linejoin="round">c</text>
</svg>
</body></html>
